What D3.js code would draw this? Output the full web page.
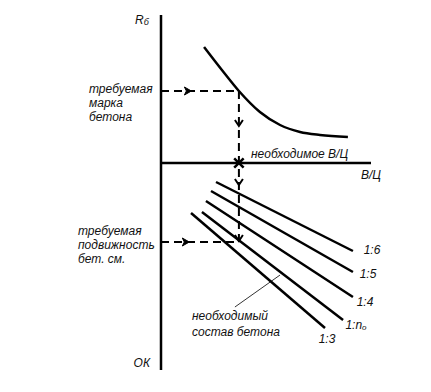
<!DOCTYPE html>
<html><head><meta charset="utf-8">
<script src="https://cdn.jsdelivr.net/npm/d3@7"></script>
<style>
body{margin:0;background:#fff;}
text{font-family:"Liberation Sans",Arial,sans-serif;font-style:italic;font-size:12px;fill:#111;}
</style></head>
<body><svg id="c" width="431" height="392"></svg>
<script>
// Strength curve Rб(В/Ц) — upper half
const curveX = [20.5, 29, 37.1, 47.1, 56.7, 66.2, 75.7, 89];
const curveY = [58, 46.5, 36, 25.5, 19, 15.5, 14, 13];
// Workability lines ОК(В/Ц) for mixes — lower half
const mixLabels = ["1:6", "1:5", "1:4", "1:n", "1:3"];
const mixStartX = [26.2, 23.8, 21.4, 19.5, 14.3];
const mixStartY = [-9.5, -14, -19, -24.5, -25];
const mixEndX   = [91.4, 91.4, 91.4, 86.7, 78.1];
const mixEndY   = [-44, -54.5, -67, -78.5, -82.5];
// required values
const requiredR = 36;
const requiredWC = 37.1;
const requiredOK = -39.5;

const svg = d3.select("#c");
const x = d3.scaleLinear().domain([0, 100]).range([161, 371]);
const y = d3.scaleLinear().domain([-103.5, 74]).range([370, 15]);

// axes
svg.append("line").attr("x1", x(0)).attr("x2", x(0)).attr("y1", y(74)).attr("y2", y(-103.5))
  .attr("stroke", "#000").attr("stroke-width", 2.5);
svg.append("line").attr("x1", x(0)).attr("x2", x(100)).attr("y1", y(0)).attr("y2", y(0))
  .attr("stroke", "#000").attr("stroke-width", 2.5);

// strength curve
const pts = curveX.map((v, i) => [v, curveY[i]]);
svg.append("path").datum(pts)
  .attr("d", d3.line().x(d => x(d[0])).y(d => y(d[1])).curve(d3.curveMonotoneX))
  .attr("fill", "none").attr("stroke", "#000").attr("stroke-width", 2.5);

// mix lines
mixLabels.forEach((m, i) => {
  svg.append("line")
    .attr("x1", x(mixStartX[i])).attr("y1", y(mixStartY[i]))
    .attr("x2", x(mixEndX[i])).attr("y2", y(mixEndY[i]))
    .attr("stroke", "#000").attr("stroke-width", 2.5);
});

// dashed guides
const dash = "8,5";
const g = svg.append("g").attr("stroke", "#000").attr("stroke-width", 2).attr("fill", "none");
g.append("line").attr("x1", x(0)).attr("x2", x(requiredWC)).attr("y1", y(requiredR)).attr("y2", y(requiredR)).attr("stroke-dasharray", dash);
g.append("line").attr("x1", x(requiredWC)).attr("x2", x(requiredWC)).attr("y1", y(requiredR)).attr("y2", y(requiredOK)).attr("stroke-dasharray", dash);
g.append("line").attr("x1", x(0)).attr("x2", x(requiredWC)).attr("y1", y(requiredOK)).attr("y2", y(requiredOK)).attr("stroke-dasharray", dash);

// arrows
function rightArrow(px, py) {
  svg.append("path").attr("d", `M${px-6},${py-4} L${px+1},${py} L${px-6},${py+4} L${px-4},${py} Z`)
    .attr("fill", "#000").attr("stroke", "#000").attr("stroke-width", 1);
}
function downArrow(px, py) {
  svg.append("path").attr("d", `M${px-4},${py-6} L${px},${py} L${px+4},${py-6}`)
    .attr("fill", "none").attr("stroke", "#000").attr("stroke-width", 2);
}
rightArrow(x(14), y(requiredR));
rightArrow(x(13), y(requiredOK));
downArrow(x(requiredWC), y(20) + 3);
downArrow(x(requiredWC), y(-9.5) + 3);
downArrow(x(requiredWC), y(requiredOK) - 1);

// cross marker
svg.append("path").attr("d", d3.symbol(d3.symbolTimes, 60)())
  .attr("transform", `translate(${x(requiredWC)},${y(0)})`)
  .attr("stroke", "#000").attr("stroke-width", 2.5).attr("fill", "none");

// leader line
svg.append("line").attr("x1", x(35.2)).attr("y1", y(-72)).attr("x2", x(56.7)).attr("y2", y(-56))
  .attr("stroke", "#000").attr("stroke-width", 0.8);

// texts
const R = svg.append("text").attr("x", 135).attr("y", 24);
R.append("tspan").text("R");
R.append("tspan").attr("font-size", "9px").attr("dy", 1).text("б");

svg.append("text").attr("x", 371).attr("y", 179).attr("text-anchor", "middle").text("В/Ц");
svg.append("text").attr("x", 251).attr("y", 158).text("необходимое В/Ц");
svg.append("text").attr("x", 150).attr("y", 367).attr("text-anchor", "end").text("ОК");

[["требуемая", 93], ["марка", 107], ["бетона", 121]].forEach(d =>
  svg.append("text").attr("x", 89).attr("y", d[1]).text(d[0]));
[["требуемая", 235], ["подвижность", 249], ["бет. см.", 263]].forEach(d =>
  svg.append("text").attr("x", 78).attr("y", d[1]).text(d[0]));
[["необходимый", 320], ["состав бетона", 336]].forEach(d =>
  svg.append("text").attr("x", 192).attr("y", d[1]).text(d[0]));

const labelPos = [[372, 254], [368, 278], [365, 306], [356, 329], [327, 343]];
mixLabels.forEach((m, i) => {
  const t = svg.append("text").attr("x", labelPos[i][0]).attr("y", labelPos[i][1]).attr("text-anchor", "middle");
  t.append("tspan").text(m);
  if (m === "1:n") t.append("tspan").attr("font-size", "8px").attr("dy", 1).text("o");
});
</script></body></html>
